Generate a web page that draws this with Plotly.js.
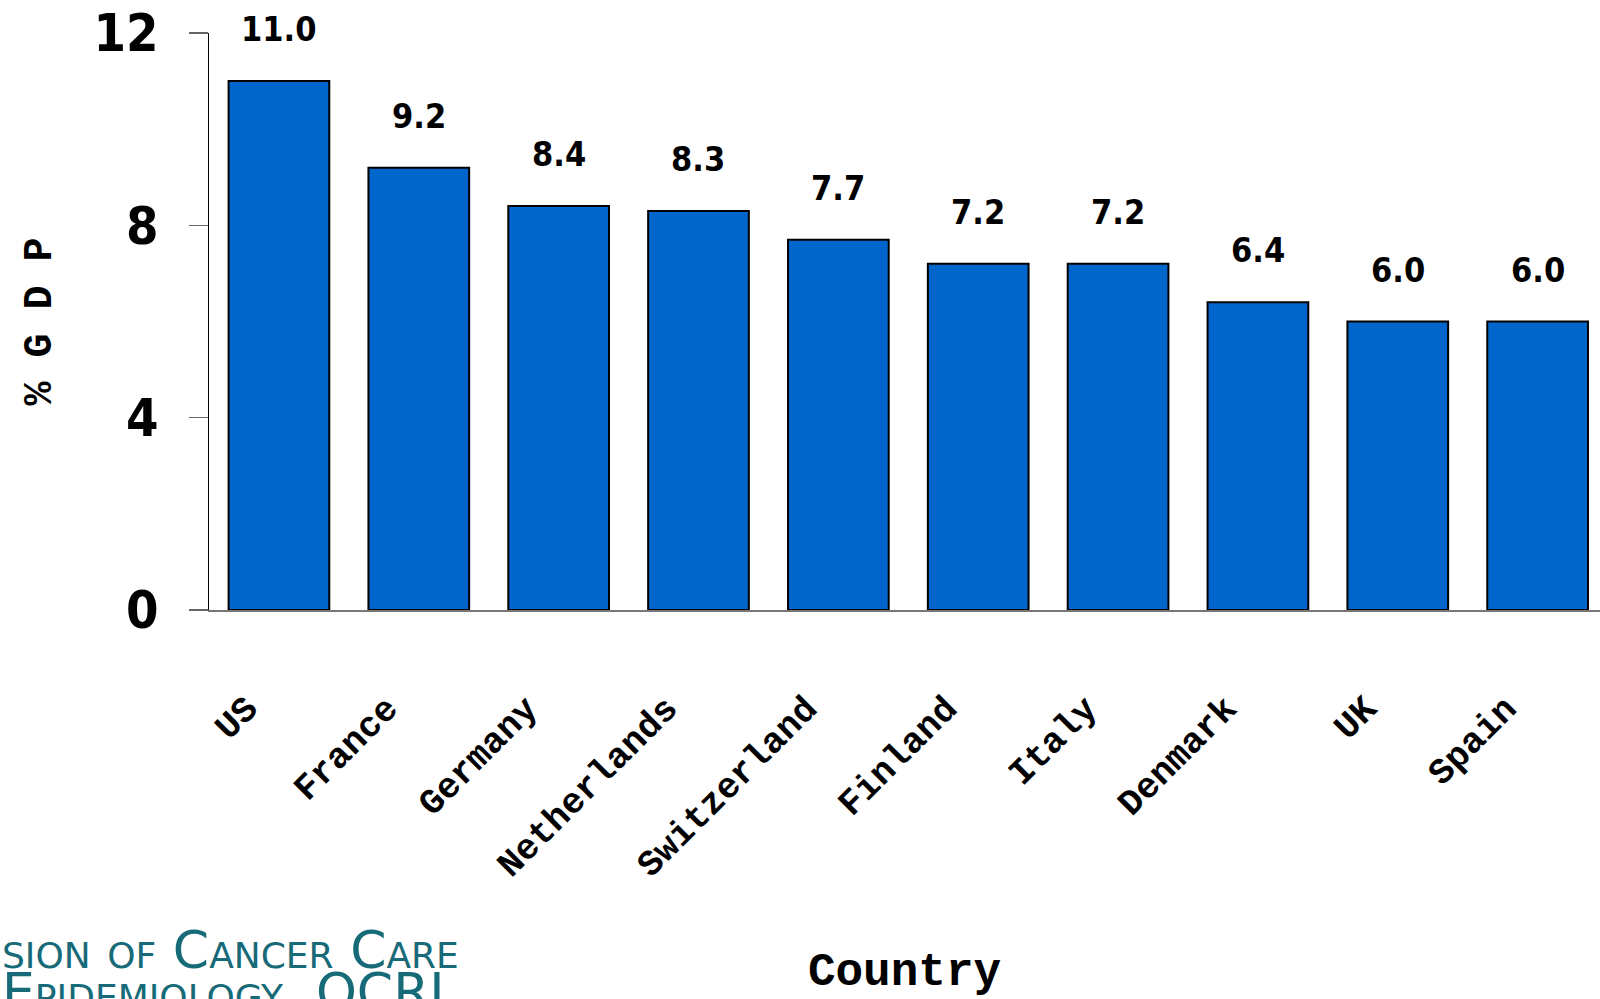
<!DOCTYPE html>
<html>
<head>
<meta charset="utf-8">
<script src="https://cdn.plot.ly/plotly-3.0.1.min.js"></script>
<style>html,body{margin:0;padding:0;background:#fff;}</style>
</head>
<body>
<div id="chart" style="width:1600px;height:999px;"></div>
<script>
const countries = ["US", "France", "Germany", "Netherlands", "Switzerland", "Finland", "Italy", "Denmark", "UK", "Spain"];
const pctGDP = [11.0, 9.2, 8.4, 8.3, 7.7, 7.2, 7.2, 6.4, 6.0, 6.0];
const yTicks = [0, 4, 8, 12];
const logoLines = ["sion of Cancer Care", "Epidemiology, QCRI"];

const narrow = "'Liberation Sans Narrow', 'DejaVu Sans Condensed', 'Arial Narrow', sans-serif";
const mono = "'Liberation Mono', 'DejaVu Sans Mono', 'Courier New', monospace";

const trace = {
  type: 'bar',
  x: countries,
  y: pctGDP,
  width: 0.72,
  marker: {color: '#0066CC', line: {color: '#000000', width: 2}},
  hoverinfo: 'x+y'
};

const valueLabels = countries.map((c, i) => ({
  x: c, y: pctGDP[i], xref: 'x', yref: 'y',
  text: pctGDP[i].toFixed(1),
  showarrow: false, yanchor: 'bottom', yshift: 30,
  font: {family: narrow, size: 34, color: '#000', weight: 'bold'}
}));

const logoFont = {family: "'DejaVu Sans', sans-serif", size: 52, color: '#176a78', variant: 'small-caps'};
const logo = [
  {xref: 'paper', yref: 'paper', x: (0 - 209) / 1391, y: -0.589, xanchor: 'left', yanchor: 'middle',
   text: logoLines[0], showarrow: false, font: logoFont},
  {xref: 'paper', yref: 'paper', x: (0 - 209) / 1391, y: -0.662, xanchor: 'left', yanchor: 'middle',
   text: logoLines[1], showarrow: false, font: logoFont}
];

const layout = {
  width: 1600, height: 999,
  margin: {l: 209, r: 0, t: 33, b: 389, pad: 0},
  paper_bgcolor: '#fff', plot_bgcolor: '#fff',
  showlegend: false,
  xaxis: {
    type: 'category',
    range: [-0.5, 9.446],
    showline: true, linecolor: '#777', linewidth: 1.5,
    ticks: '', tickangle: -45,
    ticklabelstandoff: 61, ticklabelshift: -32,
    tickfont: {family: mono, size: 36, color: '#000', weight: 'bold'},
    showgrid: false, zeroline: false,
    automargin: false,
    title: {text: 'Country', font: {family: mono, size: 46, color: '#000', weight: 'bold'}, standoff: 76}
  },
  yaxis: {
    range: [0, 12],
    tickvals: yTicks, ticktext: yTicks.map(String),
    showline: true, linecolor: '#000', linewidth: 1,
    ticks: 'outside', ticklen: 19, tickcolor: '#666', tickwidth: 1.5,
    ticklabelstandoff: 20,
    tickfont: {family: narrow, size: 52, color: '#000', weight: 'bold'},
    showgrid: false, zeroline: false,
    automargin: false,
    title: {text: '% G D P', font: {family: mono, size: 40, color: '#000', weight: 'bold'}, standoff: 29}
  },
  annotations: valueLabels.concat(logo)
};

Plotly.newPlot('chart', [trace], layout, {displayModeBar: false, staticPlot: true});
</script>
</body>
</html>
